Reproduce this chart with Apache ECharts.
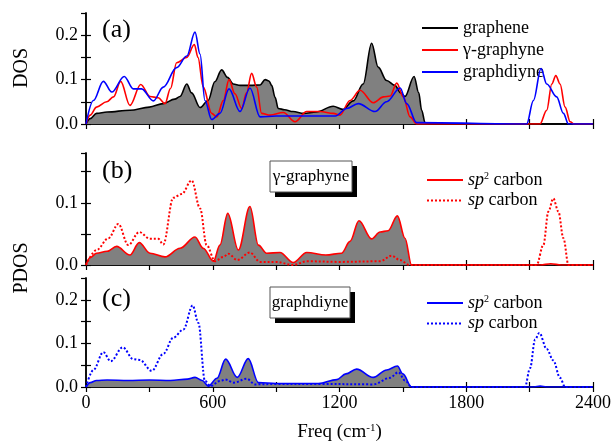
<!DOCTYPE html>
<html>
<head>
<meta charset="utf-8">
<script src="https://cdn.jsdelivr.net/npm/echarts@6/dist/echarts.min.js"></script>
<style>
  html, body { margin: 0; padding: 0; background: #fff; }
  #chart { width: 614px; height: 445px; }
</style>
</head>
<body>
<div id="chart"></div>
<script>
// panel (a): total DOS
const freqGraphene = [0, 20, 50, 100, 208, 300, 365, 420, 445, 477, 500, 540, 578, 610, 642, 670, 697, 730, 780, 824, 848, 866, 879, 895, 910, 940, 980, 1030, 1090, 1170, 1215, 1265, 1312, 1352, 1383, 1423, 1462, 1490, 1510, 1553, 1575, 1589, 1605, 1630, 2400]
const dosGraphene = [0, 0.012, 0.024, 0.027, 0.031, 0.038, 0.046, 0.056, 0.062, 0.090, 0.07, 0.037, 0.053, 0.095, 0.122, 0.105, 0.09, 0.087, 0.087, 0.088, 0.1, 0.097, 0.087, 0.06, 0.035, 0.032, 0.028, 0.024, 0.027, 0.04, 0.033, 0.052, 0.09, 0.182, 0.128, 0.098, 0.087, 0.07, 0.062, 0.107, 0.07, 0.031, 0.003, 0, 0]

const freqGraphyne = [0, 20, 50, 98, 130, 164, 208, 259, 303, 342, 374, 400, 429, 477, 513, 530, 555, 595, 619, 650, 677, 705, 737, 760, 784, 808, 831, 871, 934, 989, 1045, 1108, 1171, 1202, 1250, 1297, 1360, 1408, 1440, 1471, 1502, 1534, 1565, 2149, 2181, 2205, 2224, 2244, 2268, 2292, 2310, 2400]
const dosGraphyne = [0, 0.02, 0.038, 0.05, 0.061, 0.096, 0.042, 0.089, 0.062, 0.059, 0.046, 0.08, 0.138, 0.15, 0.179, 0.15, 0.083, 0.024, 0.016, 0.053, 0.1, 0.068, 0.035, 0.07, 0.114, 0.083, 0.024, 0.02, 0.026, 0.005, 0.028, 0.028, 0.024, 0.02, 0.053, 0.076, 0.048, 0.061, 0.063, 0.092, 0.061, 0.016, 0, 0, 0.031, 0.09, 0.109, 0.09, 0.038, 0.005, 0, 0]

const freqGraphdiyne = [0, 35, 82, 122, 181, 224, 263, 319, 366, 429, 477, 516, 540, 563, 595, 634, 677, 729, 776, 824, 900, 1000, 1100, 1180, 1234, 1289, 1368, 1423, 1487, 1518, 1565, 2086, 2118, 2154, 2181, 2228, 2260, 2284, 2400]
const dosGraphdiyne = [0, 0.053, 0.096, 0.072, 0.107, 0.079, 0.079, 0.052, 0.083, 0.127, 0.153, 0.207, 0.157, 0.053, 0.01, 0.024, 0.079, 0.028, 0.081, 0.016, 0.018, 0.018, 0.018, 0.018, 0.035, 0.046, 0.028, 0.05, 0.081, 0.046, 0.003, 0, 0.053, 0.125, 0.09, 0.061, 0.024, 0, 0]

// panel (b): γ-graphyne PDOS
const freqSp2Graphyne = [0, 20, 50, 100, 145, 208, 252, 303, 374, 445, 516, 555, 603, 634, 671, 721, 776, 816, 855, 918, 981, 1045, 1135, 1210, 1250, 1292, 1352, 1392, 1430, 1474, 1510, 1541, 2150, 2200, 2250, 2400]
const pdosSp2Graphyne = [0, 0.012, 0.019, 0.022, 0.03, 0.016, 0.036, 0.019, 0.013, 0.027, 0.045, 0.027, 0.006, 0.032, 0.083, 0.024, 0.094, 0.032, 0.019, 0.02, 0.004, 0.02, 0.016, 0.019, 0.038, 0.071, 0.042, 0.053, 0.055, 0.079, 0.043, 0, 0, 0.002, 0, 0]
const freqSpGraphyne = [0, 50, 106, 153, 200, 252, 303, 342, 366, 413, 453, 500, 540, 571, 611, 650, 674, 716, 776, 824, 900, 981, 1045, 1200, 1392, 1447, 1486, 1530, 2133, 2165, 2189, 2212, 2236, 2260, 2284, 2400]
const pdosSpGraphyne = [0, 0.024, 0.043, 0.066, 0.032, 0.053, 0.042, 0.042, 0.033, 0.108, 0.114, 0.136, 0.091, 0.032, 0.006, 0.013, 0.018, 0.008, 0.02, 0.005, 0.005, 0, 0.006, 0.005, 0.006, 0.015, 0.008, 0, 0, 0.032, 0.086, 0.107, 0.086, 0.043, 0, 0]

// panel (c): graphdiyne PDOS
const freqSp2Graphdiyne = [0, 20, 50, 100, 200, 300, 400, 480, 516, 550, 579, 620, 661, 716, 768, 816, 900, 1000, 1100, 1187, 1230, 1281, 1360, 1423, 1474, 1500, 1541, 2120, 2150, 2180, 2400]
const pdosSp2Graphdiyne = [0, 0.01, 0.015, 0.016, 0.015, 0.016, 0.015, 0.018, 0.022, 0.015, 0.002, 0.02, 0.064, 0.022, 0.065, 0.01, 0.008, 0.008, 0.008, 0.017, 0.03, 0.041, 0.022, 0.039, 0.048, 0.03, 0, 0, 0.002, 0, 0]
const freqSpGraphdiyne = [0, 35, 82, 117, 174, 224, 255, 311, 366, 413, 461, 505, 532, 563, 590, 634, 660, 700, 761, 800, 900, 1100, 1360, 1439, 1479, 1510, 1541, 2078, 2102, 2126, 2146, 2181, 2212, 2244, 2268, 2400]
const pdosSpGraphdiyne = [0, 0.039, 0.08, 0.059, 0.091, 0.064, 0.062, 0.037, 0.076, 0.113, 0.132, 0.187, 0.147, 0.014, 0.002, 0.014, 0.017, 0.01, 0.019, 0.006, 0.007, 0.007, 0.006, 0.021, 0.034, 0.015, 0, 0, 0.043, 0.109, 0.124, 0.087, 0.061, 0.021, 0, 0]

const yMaxes = [0.25, 0.18, 0.25]

const FONT = 'Liberation Serif'
const zip = (xs, ys) => xs.map((x, i) => [x, ys[i]])

const chart = echarts.init(document.getElementById('chart'))

const grids = [
  { left: 86, top: 13, width: 507, height: 111 },
  { left: 86, top: 153, width: 507, height: 112 },
  { left: 86, top: 278, width: 507, height: 113 }
]

const tickStyle = { inside: true, length: 5, lineStyle: { color: '#000', width: 1.2 } }
const lineStyleAxis = { show: true, lineStyle: { color: '#000', width: 1.5 } }

const xAxes = []
const yAxes = []
grids.forEach((g, i) => {
  // bottom and top x axes
  xAxes.push({
    gridIndex: i, type: 'value', min: 0, max: 2400, interval: 300, position: 'bottom',
    axisLine: lineStyleAxis, axisTick: tickStyle, splitLine: { show: false },
    axisLabel: {
      show: i === 2, color: '#000', fontFamily: FONT, fontSize: 18, margin: 7,
      formatter: v => (v % 600 === 0 ? String(v) : '')
    },
    name: i === 2 ? 'Freq (cm{s|-1})' : '',
    nameLocation: 'middle', nameGap: 36,
    nameTextStyle: {
      color: '#000', fontFamily: FONT, fontSize: 19,
      rich: { s: { fontFamily: FONT, fontSize: 11, verticalAlign: 'top', lineHeight: 12, padding: [0, 0, 10, 0] } }
    }
  })
  xAxes.push({
    gridIndex: i, type: 'value', min: 0, max: 2400, interval: 300, position: 'top',
    axisLine: lineStyleAxis, axisTick: tickStyle, axisLabel: { show: false }, splitLine: { show: false }
  })
  // left and right y axes
  yAxes.push({
    gridIndex: i, type: 'value', min: 0, max: yMaxes[i], interval: 0.05, position: 'left',
    axisLine: lineStyleAxis, axisTick: tickStyle, splitLine: { show: false },
    axisLabel: {
      color: '#000', fontFamily: FONT, fontSize: 18, margin: 8, showMaxLabel: false,
      formatter: v => (Math.round(v * 100) % 10 === 0 ? v.toFixed(1) : '')
    }
  })
  yAxes.push({
    gridIndex: i, type: 'value', min: 0, max: yMaxes[i], interval: 0.05, position: 'right',
    axisLine: lineStyleAxis, axisTick: tickStyle, axisLabel: { show: false }, splitLine: { show: false }
  })
})

function curve (name, grid, xs, ys, color, opts = {}) {
  return {
    name,
    type: 'line',
    xAxisIndex: grid * 2,
    yAxisIndex: grid * 2,
    data: zip(xs, ys),
    smooth: 0.35,
    smoothMonotone: 'x',
    symbol: 'none',
    animation: false,
    lineStyle: { color, width: opts.width || 1.6, type: opts.dotted ? 'dotted' : 'solid' },
    itemStyle: { color },
    areaStyle: opts.fill ? { color: '#808080', opacity: 1 } : undefined,
    z: opts.z || 2
  }
}

const series = [
  curve('graphene', 0, freqGraphene, dosGraphene, '#000', { fill: true }),
  curve('γ-graphyne', 0, freqGraphyne, dosGraphyne, '#ff0000', { z: 3 }),
  curve('graphdiyne', 0, freqGraphdiyne, dosGraphdiyne, '#0000ff', { z: 4 }),
  curve('sp2b', 1, freqSp2Graphyne, pdosSp2Graphyne, '#ff0000', { fill: true }),
  curve('spb', 1, freqSpGraphyne, pdosSpGraphyne, '#ff0000', { dotted: true, width: 2, z: 3 }),
  curve('sp2c', 2, freqSp2Graphdiyne, pdosSp2Graphdiyne, '#0000ff', { fill: true }),
  curve('spc', 2, freqSpGraphdiyne, pdosSpGraphdiyne, '#0000ff', { dotted: true, width: 2, z: 3 })
]

const carbonLabel = name => (name.startsWith('sp2') ? '{i|sp}{n|2} carbon' : '{i|sp} carbon')
const legendBase = {
  orient: 'vertical', itemWidth: 36, itemHeight: 14, itemGap: 5,
  selectedMode: false,
  itemStyle: { opacity: 0 },
  textStyle: {
    color: '#000', fontFamily: FONT, fontSize: 18, lineHeight: 17,
    rich: {
      i: { fontFamily: FONT, fontSize: 18, fontStyle: 'italic', color: '#000', lineHeight: 17 },
      n: { fontFamily: FONT, fontSize: 10, color: '#000', verticalAlign: 'top', lineHeight: 10, padding: [0, 0, 8, 0] }
    }
  }
}

const legends = [
  Object.assign({}, legendBase, { left: 416, top: 14, itemGap: 4, data: ['graphene', 'γ-graphyne', 'graphdiyne'] }),
  Object.assign({}, legendBase, { left: 421, top: 166, itemGap: 2, data: ['sp2b', 'spb'], formatter: carbonLabel }),
  Object.assign({}, legendBase, { left: 421, top: 289, itemGap: 2, data: ['sp2c', 'spc'], formatter: carbonLabel })
]

function labelBox (x, y, w, h, text) {
  return [
    { type: 'rect', shape: { x: x + 5, y: y + 5, width: w, height: h }, style: { fill: '#000' }, z: 10 },
    { type: 'rect', shape: { x, y, width: w, height: h }, style: { fill: '#fff', stroke: '#555', lineWidth: 1 }, z: 11 },
    { type: 'text', x: x + w / 2, y: y + h / 2, style: { text, fontFamily: FONT, fontSize: 17, fill: '#000', align: 'center', verticalAlign: 'middle' }, z: 12 }
  ]
}

const panelText = (text, x, y) => ({
  type: 'text', x, y, z: 12,
  style: { text, fontFamily: FONT, fontSize: 26, fill: '#000', align: 'left', verticalAlign: 'middle' }
})

const graphic = [
  panelText('(a)', 102, 30),
  panelText('(b)', 102, 171),
  panelText('(c)', 102, 299),
  { type: 'text', x: 22, y: 68, rotation: Math.PI / 2, style: { text: 'DOS', fontFamily: FONT, fontSize: 20, fill: '#000', align: 'center', verticalAlign: 'middle' } },
  { type: 'text', x: 22, y: 268, rotation: Math.PI / 2, style: { text: 'PDOS', fontFamily: FONT, fontSize: 20, fill: '#000', align: 'center', verticalAlign: 'middle' } },
  ...labelBox(270, 161, 82, 31, 'γ-graphyne'),
  ...labelBox(270, 287, 80, 31, 'graphdiyne')
]

chart.setOption({
  backgroundColor: '#fff',
  animation: false,
  grid: grids,
  xAxis: xAxes,
  yAxis: yAxes,
  legend: legends,
  graphic,
  series
})
</script>
</body>
</html>
